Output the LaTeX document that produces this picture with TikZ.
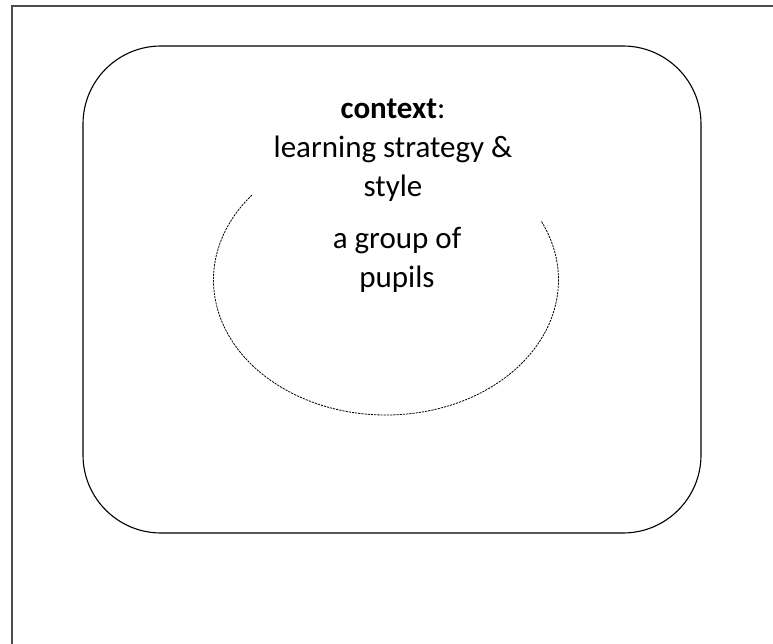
\documentclass[tikz,border=0pt]{standalone}
\usepackage{fontspec}
\setmainfont{Carlito}
\usetikzlibrary{calc}
\begin{document}
\begin{tikzpicture}[x=1pt,y=1pt,
  frame/.style={draw=black!70, line width=1.5pt},
  panel/.style={draw=black, line width=1.1pt, rounded corners=78pt, minimum width=618pt, minimum height=487pt, inner sep=0pt},
  label/.style={align=center, font=\fontsize{31}{39}\selectfont, inner sep=0pt},
  grouparc/.style={draw=black, line width=0.8pt, dash pattern=on 2.2pt off 1pt}]
\useasboundingbox (0,0) rectangle (773,-644);
\coordinate (fb) at (12,-644);
\coordinate (fc) at (12,-6);
\coordinate (fr) at (773,-6);
\draw[frame] (fb) -- (fc) -- (fr);
\node[panel] (ctxbox) at (392,-289.5) {};
\node[label] (ctx) at (393,-150) {\textbf{context}:\\learning strategy \&\\style};
\node[label] (grp) at (397,-259.5) {a group of\\pupils};
\coordinate (ec) at (386,-280);
\draw[grouparc] ($(ec)+(141:172.5 and 135)$) arc[start angle=141, end angle=386, x radius=172.5, y radius=135];
\end{tikzpicture}
\end{document}
